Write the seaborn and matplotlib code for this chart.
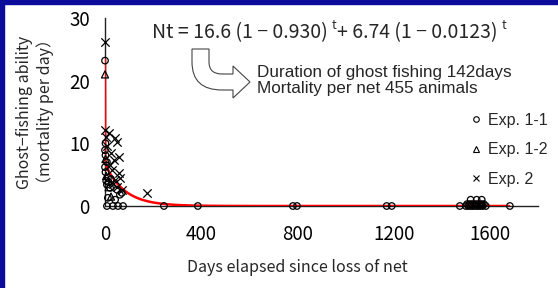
import numpy as np
import pandas as pd
import matplotlib
matplotlib.use("Agg")
import matplotlib.pyplot as plt
from matplotlib.lines import Line2D
from matplotlib.path import Path
from matplotlib.patches import PathPatch, Rectangle
import seaborn as sns

# fitted model printed on the chart: Nt = a1 (1 - r1)^t + a2 (1 - r2)^t
a1, r1 = 16.6, 0.930
a2, r2 = 6.74, 0.0123
curve_end = 1680

# Exp. 1-1 (circles)
exp11_days = [0, 2, 0, 2, 8, 0, 2, 12, 8, 21, 50, 62, 70, 12, 42, 5, 15, 25,
              8, 33, 54, 75, 245, 386, 781, 798, 1171, 1192, 1475, 1500, 1510,
              1520, 1530, 1540, 1550, 1560, 1570, 1583, 1520, 1545, 1566, 1683,
              1505, 1515, 1525, 1535, 1545, 1555, 1565, 1575]
exp11_rate = [23.2, 10.0, 8.9, 8.1, 7.0, 6.2, 5.4, 4.5, 3.4, 2.9, 2.6, 1.8, 2.1, 1.3, 1.0, 4.0, 3.8, 4.3,
              0, 0, 0, 0, 0, 0, 0, 0, 0, 0, 0, 0, 0,
              0, 0, 0, 0, 0, 0, 0, 1.0, 1.0, 1.0, 0,
              0.3, 0.3, 0.3, 0.3, 0.3, 0.3, 0.3, 0.3]

# Exp. 1-2 (triangles)
exp12_days = [0, 2, 5, 15, 25]
exp12_rate = [21.0, 7.5, 4.8, 3.0, 1.5]

# Exp. 2 (crosses)
exp2_days = [0, 2, 15, 42, 50, 58, 25, 37, 58, 62, 29, 42, 174, 10, 20, 33, 50, 70, 4]
exp2_rate = [26.1, 12.1, 11.6, 10.8, 10.2, 7.8, 8.4, 7.3, 5.3, 4.5, 5.7, 4.1, 2.0, 9.5, 6.5, 3.5, 3.0, 2.5, 11.0]

x_ticks = [0, 400, 800, 1200, 1600]
y_ticks = [0, 10, 20, 30]

W, H = 558, 288


def fx(x):
    return x / W


def fy(y):
    return 1 - y / H


sns.set_theme(style="white")
plt.rcParams["font.family"] = ["Noto Sans CJK JP", "DejaVu Sans"]

fig = plt.figure(figsize=(W / 100, H / 100), dpi=100)
ax = fig.add_axes([fx(105), fy(206), 433 / W, 188 / H])

# fitted curve
t = np.arange(0, curve_end + 1)
curve = pd.DataFrame({"t": t, "n": a1 * (1 - r1) ** t + a2 * (1 - r2) ** t})
sns.lineplot(data=curve, x="t", y="n", color="red", linewidth=1.8, ax=ax, zorder=4)

# observations
sns.scatterplot(x=exp11_days, y=exp11_rate, marker="o", s=22, facecolors="none",
                edgecolor="black", linewidth=0.9, ax=ax, zorder=5, clip_on=False)
sns.scatterplot(x=exp12_days, y=exp12_rate, marker="^", s=26, facecolors="none",
                edgecolor="black", linewidth=0.9, ax=ax, zorder=5, clip_on=False)
sns.scatterplot(x=exp2_days, y=exp2_rate, marker="x", s=36, color="black",
                linewidth=0.9, ax=ax, zorder=5, clip_on=False)

ax.set_xlim(0, 1800)
ax.set_ylim(0, 30)
ax.set_xticks(x_ticks)
ax.set_yticks(y_ticks)
ax.set_xlabel("")
ax.set_ylabel("")
sns.despine(ax=ax)
for side in ["left", "bottom"]:
    ax.spines[side].set_color("#222222")
    ax.spines[side].set_linewidth(1.0)
ax.tick_params(direction="in", length=6, width=1, colors="#222222", labelcolor="black",
               labelsize=13.5)
ax.tick_params(axis="y", pad=11)
ax.tick_params(axis="x", pad=13)

# axis titles
fig.text(fx(35), fy(112), "Ghost−fishing ability\n（mortality per day）", rotation=90,
         ha="center", va="center", multialignment="center", linespacing=1.2, fontsize=11.5)
fig.text(fx(297), fy(268), "Days elapsed since loss of net", ha="center", va="center", fontsize=11.5)

# legend
handles = [
    Line2D([], [], marker="o", ls="none", mfc="none", mec="black", ms=4, mew=0.8),
    Line2D([], [], marker="^", ls="none", mfc="none", mec="black", ms=4, mew=0.8),
    Line2D([], [], marker="x", ls="none", color="black", ms=4, mew=0.8),
]
fig.legend(handles, ["Exp. 1-1", "Exp. 1-2", "Exp. 2"], loc="upper left",
           bbox_to_anchor=(fx(463), fy(105)), frameon=False, handlelength=0.6,
           handletextpad=0.45, labelspacing=0.9, borderpad=0,
           prop={"family": "Liberation Sans", "size": 11.5})

# equation with superscripts
fig.canvas.draw()
renderer = fig.canvas.get_renderer()
x = 152
base = 38
pieces = [("Nt = 16.6 (1 − 0.930) ", 14, 0), ("t", 9, -9),
          ("+ 6.74 (1 − 0.0123) ", 14, 0), ("t", 9, -9)]
for s, size, dy in pieces:
    txt = fig.text(fx(x), fy(base + dy), s, fontsize=size, ha="left", va="baseline")
    x += txt.get_window_extent(renderer=renderer).width

note_font = {"family": "Liberation Sans", "size": 12.3}
fig.text(fx(257), fy(73), "Duration of ghost fishing 142days", ha="left", va="center", fontdict=note_font)
fig.text(fx(257), fy(89), "Mortality per net 455 animals", ha="left", va="center", fontdict=note_font)

# hollow bent arrow
pts = [(192, 49), (209, 49), (209, 62), (209, 74), (222, 74), (233, 74), (233, 66),
       (250, 82), (233, 98), (233, 90), (222, 90), (192, 90), (192, 62), (192, 49)]
codes = [Path.MOVETO, Path.LINETO, Path.LINETO, Path.CURVE3, Path.CURVE3, Path.LINETO, Path.LINETO,
         Path.LINETO, Path.LINETO, Path.LINETO, Path.LINETO, Path.CURVE3, Path.CURVE3, Path.CLOSEPOLY]
arrow = PathPatch(Path([(fx(a), fy(b)) for a, b in pts], codes), transform=fig.transFigure,
                  facecolor="white", edgecolor="#444444", linewidth=0.8)
fig.add_artist(arrow)

# blue frame on left and top
fig.add_artist(Rectangle((0, 0), fx(4), 1, transform=fig.transFigure, color="#0b0b9c", zorder=10))
fig.add_artist(Rectangle((0, fy(4)), 1, 4 / H, transform=fig.transFigure, color="#0b0b9c", zorder=10))

fig.savefig("out.png", dpi=100)
